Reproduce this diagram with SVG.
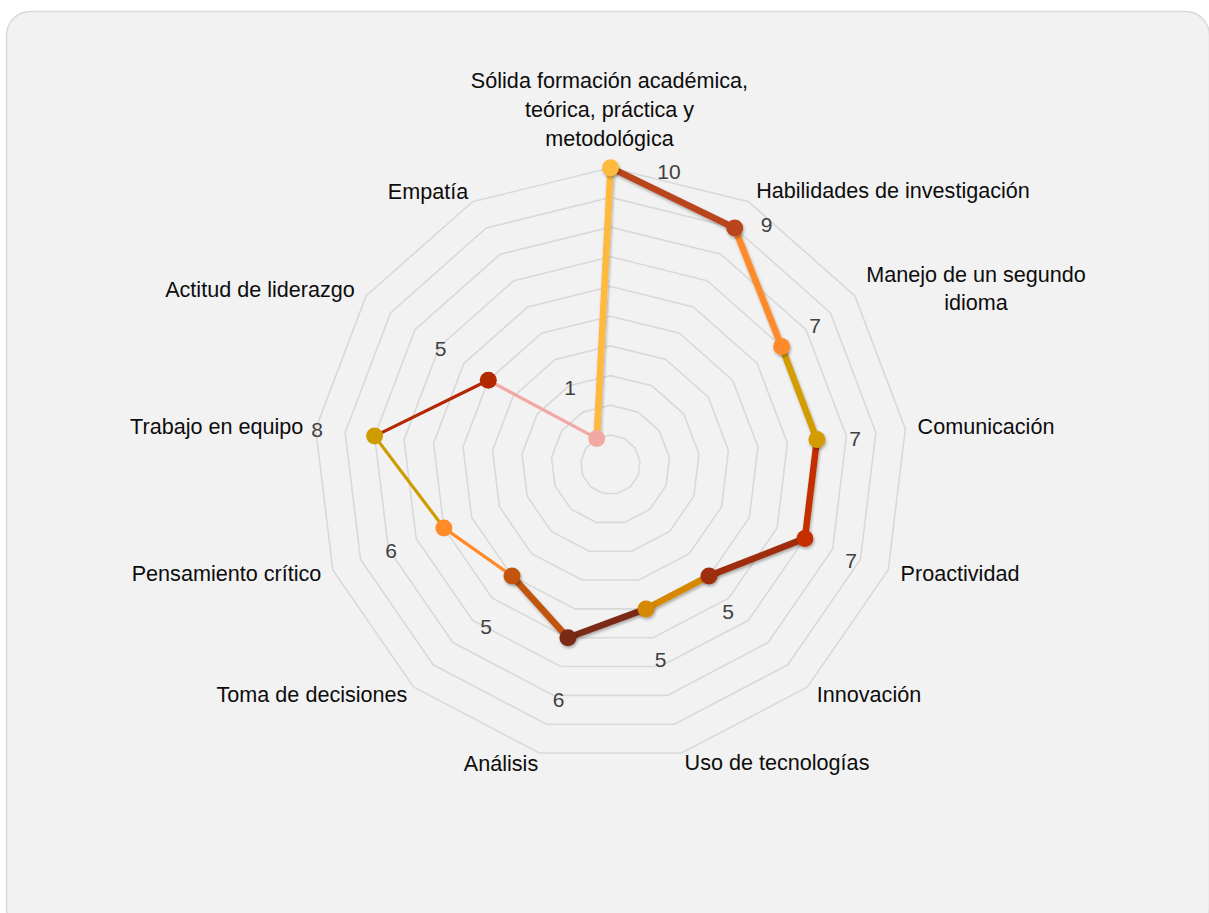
<svg xmlns="http://www.w3.org/2000/svg" xmlns:xlink="http://www.w3.org/1999/xlink" width="1209" height="913" viewBox="0 0 1209 913">
<style>
.lbl{font-family:"Liberation Sans",Arial,sans-serif;font-size:21.6px;fill:#0D0D0D;text-anchor:middle}
.val{font-family:"Liberation Sans",Arial,sans-serif;font-size:21px;fill:#404040;text-anchor:middle}
.ring{fill:none;stroke:#D9D9D9;stroke-width:1.6}
.seg{fill:none;stroke-linecap:round}
.thick{stroke-width:6.5;filter:url(#sh)}
.thin{stroke-width:3.2}
.mk{filter:url(#sh)}
</style>
<defs>
<filter id="sh" x="-50%" y="-50%" width="200%" height="200%">
<feDropShadow dx="1" dy="2" stdDeviation="1.6" flood-color="#000" flood-opacity="0.3"/>
</filter>
<polygon id="ring" vector-effect="non-scaling-stroke" points="0,-1 0.46472,-0.88546 0.82298,-0.56806 0.99271,-0.12054 0.93502,0.3546 0.66312,0.74851 0.23932,0.97094 -0.23932,0.97094 -0.66312,0.74851 -0.93502,0.3546 -0.99271,-0.12054 -0.82298,-0.56806 -0.46472,-0.88546"/>
</defs>
<rect x="6.5" y="11.5" width="1203" height="920" rx="24" fill="#F2F2F2" stroke="#D9D9D9" stroke-width="1.5"/>
<g id="grid" class="ring">
<use href="#ring" transform="translate(610.5,464.7) scale(29.7)"/>
<use href="#ring" transform="translate(610.5,464.7) scale(59.4)"/>
<use href="#ring" transform="translate(610.5,464.7) scale(89.1)"/>
<use href="#ring" transform="translate(610.5,464.7) scale(118.8)"/>
<use href="#ring" transform="translate(610.5,464.7) scale(148.5)"/>
<use href="#ring" transform="translate(610.5,464.7) scale(178.2)"/>
<use href="#ring" transform="translate(610.5,464.7) scale(207.9)"/>
<use href="#ring" transform="translate(610.5,464.7) scale(237.6)"/>
<use href="#ring" transform="translate(610.5,464.7) scale(267.3)"/>
<use href="#ring" transform="translate(610.5,464.7) scale(297)"/>
</g>
<g id="connectors" class="seg">
<line class="thin" x1="512.0" y1="575.9" x2="443.9" y2="527.9" stroke="#FF8A2A"/>
<line class="thin" x1="443.9" y1="527.9" x2="374.6" y2="436.1" stroke="#CF9C00"/>
<line class="thin" x1="374.6" y1="436.1" x2="488.3" y2="380.3" stroke="#B32800"/>
<line class="thin" x1="488.3" y1="380.3" x2="596.7" y2="438.4" stroke="#F2A8A3"/>
<line class="thick" x1="596.7" y1="438.4" x2="610.5" y2="167.7" stroke="#FFBA3D"/>
<line class="thick" x1="610.5" y1="167.7" x2="734.7" y2="228.0" stroke="#B9451F"/>
<line class="thick" x1="734.7" y1="228.0" x2="781.6" y2="346.6" stroke="#FF8A2B"/>
<line class="thick" x1="781.6" y1="346.6" x2="816.9" y2="439.6" stroke="#D39C00"/>
<line class="thick" x1="816.9" y1="439.6" x2="804.9" y2="538.4" stroke="#C52E06"/>
<line class="thick" x1="804.9" y1="538.4" x2="709.0" y2="575.9" stroke="#9E2D10"/>
<line class="thick" x1="709.0" y1="575.9" x2="646.0" y2="608.9" stroke="#D58800"/>
<line class="thick" x1="646.0" y1="608.9" x2="567.9" y2="637.7" stroke="#7A2A18"/>
<line class="thick" x1="567.9" y1="637.7" x2="512.0" y2="575.9" stroke="#C25510"/>
</g>
<g id="n0"><circle class="mk" cx="610.5" cy="167.7" r="8.5" fill="#FFBA3D"/><text class="val" x="669" y="179">10</text>
<text class="lbl" x="609.5" y="88">Sólida formación académica,</text><text class="lbl" x="609.5" y="117">teórica, práctica y</text><text class="lbl" x="609.5" y="146">metodológica</text></g>
<g id="n1"><circle class="mk" cx="734.7" cy="228.0" r="8.5" fill="#B9451F"/><text class="val" x="766.5" y="232">9</text>
<text class="lbl" x="893" y="198">Habilidades de investigación</text></g>
<g id="n2"><circle class="mk" cx="781.6" cy="346.6" r="8.5" fill="#FF8A2B"/><text class="val" x="815" y="333">7</text>
<text class="lbl" x="976" y="282">Manejo de un segundo</text><text class="lbl" x="976" y="310">idioma</text></g>
<g id="n3"><circle class="mk" cx="816.9" cy="439.6" r="8.5" fill="#D39C00"/><text class="val" x="855" y="446">7</text>
<text class="lbl" x="986" y="434">Comunicación</text></g>
<g id="n4"><circle class="mk" cx="804.9" cy="538.4" r="8.5" fill="#C52E06"/><text class="val" x="851" y="568">7</text>
<text class="lbl" x="960" y="581">Proactividad</text></g>
<g id="n5"><circle class="mk" cx="709.0" cy="575.9" r="8.5" fill="#9E2D10"/><text class="val" x="728" y="619">5</text>
<text class="lbl" x="869" y="702">Innovación</text></g>
<g id="n6"><circle class="mk" cx="646.0" cy="608.9" r="8.5" fill="#D58800"/><text class="val" x="660.5" y="667">5</text>
<text class="lbl" x="777" y="770">Uso de tecnologías</text></g>
<g id="n7"><circle class="mk" cx="567.9" cy="637.7" r="8.5" fill="#7A2A18"/><text class="val" x="558.5" y="707">6</text>
<text class="lbl" x="501" y="771">Análisis</text></g>
<g id="n8"><circle class="mk" cx="512.0" cy="575.9" r="8.5" fill="#C25510"/><text class="val" x="486" y="634">5</text>
<text class="lbl" x="312" y="702">Toma de decisiones</text></g>
<g id="n9"><circle cx="443.9" cy="527.9" r="8.5" fill="#FF8A2A"/><text class="val" x="391" y="558">6</text>
<text class="lbl" x="226.5" y="581">Pensamiento crítico</text></g>
<g id="n10"><circle cx="374.6" cy="436.1" r="8.5" fill="#CF9C00"/><text class="val" x="317" y="437">8</text>
<text class="lbl" x="216.7" y="434">Trabajo en equipo</text></g>
<g id="n11"><circle cx="488.3" cy="380.3" r="8.5" fill="#B32800"/><text class="val" x="440.5" y="356">5</text>
<text class="lbl" x="260" y="297">Actitud de liderazgo</text></g>
<g id="n12"><circle cx="596.7" cy="438.4" r="8.5" fill="#F2A8A3"/><text class="val" x="570" y="395">1</text>
<text class="lbl" x="428" y="199">Empatía</text></g>
</svg>
